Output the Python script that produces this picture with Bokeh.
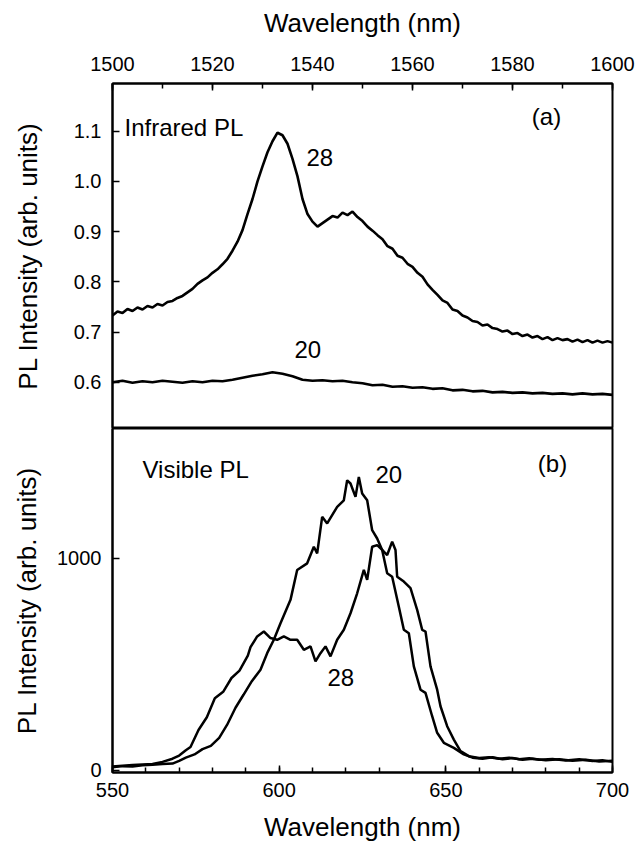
from bokeh.plotting import figure
from bokeh.layouts import column
from bokeh.models import FixedTicker, PrintfTickFormatter, Label
from bokeh.embed import file_html
from bokeh.resources import INLINE

# ---------------- data: panel (a) infrared PL ----------------
ir_wl_28 = list(range(1500, 1601))
ir_pl_28 = [
    0.733, 0.741, 0.738, 0.746, 0.742, 0.749, 0.745, 0.752, 0.749, 0.756,
    0.753, 0.760, 0.762, 0.768, 0.772, 0.779, 0.786, 0.796, 0.803, 0.809,
    0.818, 0.825, 0.835, 0.846, 0.862, 0.880, 0.903, 0.935, 0.965, 1.000,
    1.030, 1.058, 1.080, 1.097, 1.092, 1.075, 1.045, 1.010, 0.965, 0.935,
    0.920, 0.910, 0.917, 0.924, 0.931, 0.928, 0.938, 0.933, 0.940, 0.929,
    0.921, 0.910, 0.902, 0.893, 0.885, 0.871, 0.866, 0.852, 0.848, 0.836,
    0.830, 0.818, 0.810, 0.795, 0.784, 0.774, 0.763, 0.758, 0.745, 0.742,
    0.733, 0.729, 0.722, 0.720, 0.713, 0.715, 0.708, 0.706, 0.701, 0.703,
    0.696, 0.698, 0.692, 0.695, 0.689, 0.692, 0.686, 0.690, 0.684, 0.688,
    0.684, 0.686, 0.681, 0.685, 0.680, 0.684, 0.679, 0.683, 0.679, 0.682,
    0.679,
]
ir_wl_20 = list(range(1500, 1601, 2))
ir_pl_20 = [
    0.600, 0.603, 0.599, 0.602, 0.600, 0.603, 0.601, 0.599, 0.602, 0.600,
    0.603, 0.602, 0.605, 0.609, 0.613, 0.616, 0.620, 0.617, 0.612, 0.605,
    0.603, 0.604, 0.602, 0.603, 0.600, 0.598, 0.594, 0.595, 0.591, 0.592,
    0.589, 0.590, 0.587, 0.588, 0.584, 0.585, 0.582, 0.583, 0.580, 0.581,
    0.579, 0.580, 0.578, 0.579, 0.577, 0.578, 0.576, 0.578, 0.576, 0.577,
    0.575,
]
ir_xticks = [1500, 1520, 1540, 1560, 1580, 1600]
ir_yticks = [0.6, 0.7, 0.8, 0.9, 1.0, 1.1]

# ---------------- data: panel (b) visible PL ----------------
vis_wl_20 = [550, 553, 556, 559, 562, 565, 568, 570, 572, 574.6, 577, 579.5, 582,
             584.4, 586.9, 589.3, 591.8, 594.4, 596.4, 598.4, 600.4, 603.4, 605.4,
             608.4, 610.4, 611.4, 612.9, 614.4, 617.4, 619.4, 620.4, 621.4, 622.9,
             623.9, 624.9, 626.4, 627.9, 629.4, 630.9, 632.4, 633.9, 635.9, 637.4,
             638.9, 640.4, 642.4, 643.9, 645.9, 647.4, 649.4, 652.4, 655.4, 658,
             661, 664, 667, 670, 673, 676, 680, 684, 688, 692, 696, 700]
vis_pl_20 = [15, 20, 18, 24, 26, 30, 32, 45, 60, 75, 100, 115, 153,
             215, 295, 356, 420, 474, 552, 615, 693, 803, 944,
             975, 1053, 1022, 1194, 1163, 1241, 1272, 1366, 1351, 1288,
             1382, 1304, 1272, 1131, 1092, 1038, 928, 912, 771, 662,
             646, 490, 380, 365, 255, 177, 130, 106, 75, 60,
             55, 62, 52, 58, 50, 55, 48, 52, 45, 50, 42, 45]
vis_wl_28 = [550, 553, 556, 559, 562, 565, 568, 570, 572, 573.4, 575.8, 578.3,
             580.7, 583.2, 585.7, 588.1, 590.6, 591.4, 593.4, 595.4, 597.4, 599.4,
             601.4, 603.4, 605.4, 607.4, 609.4, 610.9, 612.4, 613.9, 615.4, 617.4,
             619.4, 621.4, 623.4, 625.4, 626.4, 627.9, 629.4, 630.9, 632.4, 633.9,
             634.9, 635.4, 637.4, 639.4, 641.4, 642.9, 643.9, 645.4, 647.4, 648.4,
             650.4, 652.4, 654.4, 656.9, 660, 663, 666, 669, 672, 675, 678, 682,
             686, 690, 694, 697, 700]
vis_pl_28 = [18, 22, 25, 28, 30, 40, 55, 70, 95, 110, 190, 250,
             340, 370, 435, 470, 540, 580, 631, 654, 623, 615,
             631, 615, 615, 568, 584, 513, 552, 584, 537, 615,
             662, 740, 834, 944, 897, 1053, 1061, 1038, 1014, 1077,
             1038, 912, 889, 858, 756, 662, 654, 490, 380, 302,
             208, 145, 91, 67, 58, 62, 55, 60, 52, 57, 50, 54,
             47, 52, 44, 48, 40]
vis_xticks = [550, 600, 650, 700]
vis_yticks = [0, 1000]

FONT = "Liberation Sans"
W = 644


def style(p):
    p.background_fill_color = "white"
    p.border_fill_color = "white"
    p.outline_line_color = "black"
    p.outline_line_width = 2
    p.xgrid.visible = False
    p.ygrid.visible = False
    for ax in p.axis:
        ax.axis_line_width = 2
        ax.axis_line_color = "black"
        ax.major_tick_line_width = 1.5
        ax.minor_tick_line_width = 1.5
        ax.major_tick_in = 7
        ax.major_tick_out = 0
        ax.minor_tick_in = 5
        ax.minor_tick_out = 0
        ax.major_label_text_font = FONT
        ax.major_label_text_font_size = "20px"
        ax.major_label_text_color = "black"
        ax.axis_label_text_font = FONT
        ax.axis_label_text_font_style = "normal"
        ax.axis_label_text_font_size = "26px"
        ax.axis_label_text_color = "black"


# ---------------- panel (a) ----------------
p1 = figure(width=W, height=428, x_range=(1500, 1600), y_range=(0.508, 1.195),
            x_axis_location="above", output_backend="svg", toolbar_location=None,
            min_border_left=112, min_border_right=32, min_border_top=83,
            min_border_bottom=0)
style(p1)
p1.xaxis.ticker = FixedTicker(ticks=ir_xticks, minor_ticks=list(range(1500, 1601, 10)))
p1.xaxis.axis_label = "Wavelength (nm)"
p1.xaxis.major_label_standoff = 13
p1.xaxis.axis_label_standoff = 16
p1.yaxis.ticker = FixedTicker(ticks=ir_yticks)
p1.yaxis.formatter = PrintfTickFormatter(format="%.1f")
p1.yaxis.axis_label = "PL Intensity (arb. units)"
p1.yaxis.major_label_standoff = 11
p1.yaxis.axis_label_standoff = 28

p1.line(ir_wl_28, ir_pl_28, line_color="black", line_width=2.6)
p1.line(ir_wl_20, ir_pl_20, line_color="black", line_width=2.6)

for txt, x, y, align in [("Infrared PL", 1502.4, 1.107, "left"),
                         ("28", 1538.8, 1.048, "left"),
                         ("20", 1536.4, 0.666, "left"),
                         ("(a)", 1586.8, 1.130, "center")]:
    p1.add_layout(Label(x=x, y=y, text=txt, text_font=FONT, text_font_size="24px",
                        text_align=align, text_baseline="middle", text_color="black"))

# ---------------- panel (b) ----------------
p2 = figure(width=W, height=416, x_range=(550, 700), y_range=(-10, 1610),
            output_backend="svg", toolbar_location=None,
            min_border_left=112, min_border_right=32, min_border_top=0,
            min_border_bottom=71)
style(p2)
p2.xaxis.ticker = FixedTicker(ticks=vis_xticks, minor_ticks=list(range(550, 701, 10)))
p2.xaxis.axis_label = "Wavelength (nm)"
p2.xaxis.major_label_standoff = 10
p2.xaxis.axis_label_standoff = 12
p2.yaxis.ticker = FixedTicker(ticks=vis_yticks)
p2.yaxis.axis_label = "PL Intensity (arb. units)"
p2.yaxis.major_label_standoff = 11
p2.yaxis.axis_label_standoff = 12

p2.line(vis_wl_20, vis_pl_20, line_color="black", line_width=2.5)
p2.line(vis_wl_28, vis_pl_28, line_color="black", line_width=2.5)

for txt, x, y, align in [("Visible PL", 559.0, 1418, "left"),
                         ("20", 628.9, 1394, "left"),
                         ("28", 614.5, 437, "left"),
                         ("(b)", 682.0, 1446, "center")]:
    p2.add_layout(Label(x=x, y=y, text=txt, text_font=FONT, text_font_size="24px",
                        text_align=align, text_baseline="middle", text_color="black"))

layout = column(p1, p2)
open("out.html", "w").write(file_html(layout, INLINE))
